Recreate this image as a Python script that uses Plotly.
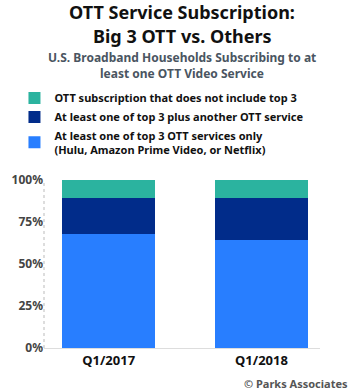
import plotly.graph_objects as go

categories = ["Q1/2017", "Q1/2018"]
top3_only = [68, 64]
top3_plus = [21, 25]
no_top3 = [11, 11]
series_names = [
    "<b>At least one of top 3 OTT services only<br>(Hulu, Amazon Prime Video, or Netflix)</b>",
    "<b>At least one of top 3 plus another OTT service</b>",
    "<b>OTT subscription that does not include top 3</b>",
]
colors = ["#287EFF", "#012C8A", "#2BB39F"]
tick_vals = [0, 25, 50, 75, 100]
tick_text = ["0%", "25%", "50%", "75%", "100%"]
title_lines = ["OTT Service Subscription:", "Big 3 OTT vs. Others"]
subtitle_lines = ["U.S. Broadband Households Subscribing to at", "least one OTT Video Service"]

FONT = "Noto Sans"

fig = go.Figure()
for vals, name, col in zip([top3_only, top3_plus, no_top3], series_names, colors):
    fig.add_trace(go.Bar(x=categories, y=vals, name=name, marker=dict(color=col, line=dict(width=0)),
                         width=0.61))

fig.update_layout(
    width=351, height=392,
    barmode="stack",
    plot_bgcolor="white", paper_bgcolor="white",
    margin=dict(l=41, r=31, t=180, b=44),
    showlegend=True,
    legend=dict(x=-0.107, y=1.574, xanchor="left", yanchor="top",
                traceorder="reversed", font=dict(family=FONT, size=11, color="#111"),
                itemwidth=30, tracegroupgap=0, bgcolor="rgba(0,0,0,0)"),
    font=dict(family=FONT),
)
fig.update_xaxes(range=[-0.423, 1.383], showline=True, linecolor="#dddddd", linewidth=1,
                 tickfont=dict(family=FONT, size=13, color="#111", weight="bold"), ticks="")
fig.update_yaxes(range=[0, 100], tickvals=tick_vals, ticktext=tick_text, showgrid=False, zeroline=False,
                 showline=False, tickfont=dict(family=FONT, size=12, color="#444", weight="bold"))

fig.add_shape(type="line", xref="paper", yref="paper", x0=0, x1=0, y0=0, y1=1,
              line=dict(color="#bbbbbb", width=1, dash="dot"), layer="below")

for txt, yc in zip(title_lines, [12, 36]):
    fig.add_annotation(text="<b>" + txt + "</b>", xref="paper", yref="paper",
                       x=0.5, y=1, xanchor="center", yanchor="middle", showarrow=False, yshift=180 - yc,
                       font=dict(family=FONT, size=18, color="#111"))
for txt, yc in zip(subtitle_lines, [57, 73]):
    fig.add_annotation(text="<b>" + txt + "</b>", xref="paper", yref="paper",
                       x=0.5, y=1, xanchor="center", yanchor="middle", showarrow=False, yshift=180 - yc,
                       font=dict(family=FONT, size=12, color="#4a5561"))
fig.add_annotation(text="<b>© Parks Associates</b>", xref="paper", yref="paper", x=1, y=0,
                   xanchor="right", yanchor="top", showarrow=False, xshift=30, yshift=-26,
                   font=dict(family=FONT, size=11, color="#555"))

fig.write_html("out.html")
